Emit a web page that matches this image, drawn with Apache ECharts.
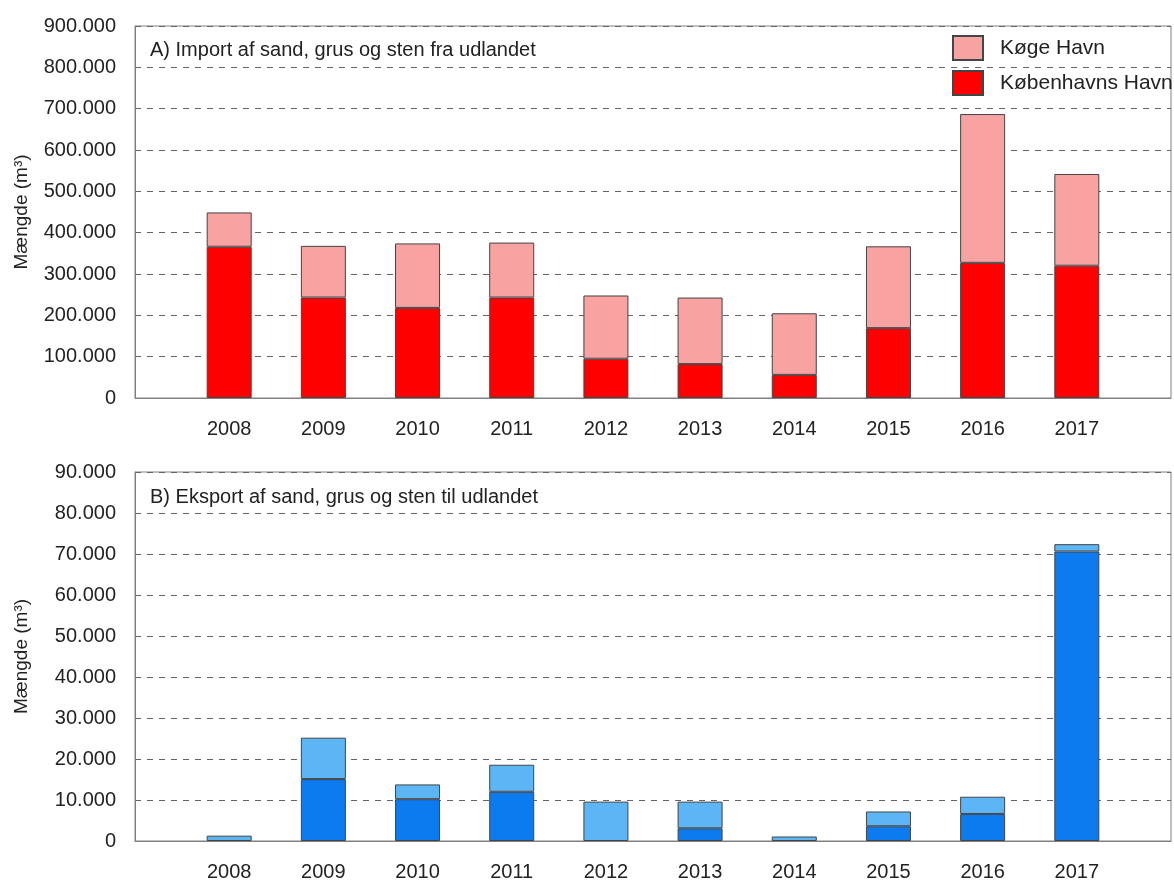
<!DOCTYPE html>
<html>
<head>
<meta charset="utf-8">
<script src="https://cdn.jsdelivr.net/npm/echarts@6/dist/echarts.min.js"></script>
<style>
  html, body { margin: 0; padding: 0; background: #fff; }
  #chart { width: 1174px; height: 882px; }
</style>
</head>
<body>
<div id="chart"></div>
<script>
// Years shown on both panels
const years = [2008, 2009, 2010, 2011, 2012, 2013, 2014, 2015, 2016, 2017];

// A) Import of sand, gravel and stone (m³)
const importKbh  = [366000, 243000, 218000, 243000, 95000, 82000, 56000, 169000, 327000, 320000];
const importKoge = [83000, 125000, 156000, 133000, 153000, 161000, 149000, 198000, 360000, 222000];

// B) Export of sand, gravel and stone (m³); null = no shipments
const exportKbh  = [null, 15100, 10200, 12000, null, 3100, null, 3600, 6600, 70600];
const exportKoge = [1300, 10100, 3600, 6600, 9600, 6500, 1100, 3600, 4200, 1800];

const panelTitles = [
  'A) Import af sand, grus og sten fra udlandet',
  'B) Eksport af sand, grus og sten til udlandet'
];
const yName = 'Mængde (m³)';

const FONT = '"Liberation Sans", Arial, sans-serif';
const TXT = '#222';
const GRID_GRAY = '#808080';

// The year axis runs one empty slot beyond each end (unlabelled padding years)
const firstYear = years[0] - 1;
const lastYear = years[years.length - 1] + 1;
const axisYears = [String(firstYear), ...years.map(String), String(lastYear)];

function fmtThousands(v) {
  return String(v).replace(/\B(?=(\d{3})+(?!\d))/g, '.');
}
function padded(vals) {
  return ['-', ...vals.map(v => v == null ? '-' : v), '-'];
}

const xAxisBase = (gridIndex) => ({
  type: 'category', gridIndex, data: axisYears, boundaryGap: false,
  axisLine: { show: true, lineStyle: { color: GRID_GRAY, width: 1 } },
  axisTick: { show: false },
  splitLine: { show: false },
  axisLabel: {
    margin: 21, fontSize: 20, color: TXT, fontFamily: FONT, interval: 0,
    formatter: v => (v === axisYears[0] || v === axisYears[axisYears.length - 1]) ? '' : v
  }
});

const yAxisBase = (gridIndex, max, interval) => ({
  type: 'value', gridIndex, min: 0, max, interval,
  name: yName, nameLocation: 'middle', nameGap: 104, nameRotate: 90,
  nameTextStyle: { fontSize: 19, color: TXT, fontFamily: FONT },
  axisLine: { show: true, lineStyle: { color: GRID_GRAY, width: 1 } },
  axisTick: { show: false },
  axisLabel: { margin: 19, fontSize: 20, color: TXT, fontFamily: FONT, formatter: fmtThousands },
  splitLine: { show: true, lineStyle: { color: '#666', width: 1, type: [6, 6] } }
});

const barStyle = (color) => ({ color, borderColor: '#444', borderWidth: 1 });
const titleStyle = { fontSize: 20, fontWeight: 'normal', color: TXT, fontFamily: FONT };

const option = {
  animation: false,
  backgroundColor: '#fff',
  textStyle: { fontFamily: FONT },
  title: [
    { text: panelTitles[0], left: 145, top: 35, textStyle: titleStyle },
    { text: panelTitles[1], left: 145, top: 482, textStyle: titleStyle }
  ],
  legend: {
    data: ['Køge Havn', 'Københavns Havn'],
    orient: 'vertical', left: 952, top: 35, padding: 0,
    itemWidth: 30, itemHeight: 24, itemGap: 9, icon: 'rect',
    textStyle: { fontSize: 21, color: TXT, fontFamily: FONT, padding: [0, 0, 0, 12] }
  },
  grid: [
    { left: 135, width: 1040, top: 26, height: 372, show: true, borderColor: GRID_GRAY, borderWidth: 1 },
    { left: 135, width: 1040, top: 472, height: 371, show: true, borderColor: GRID_GRAY, borderWidth: 1 }
  ],
  xAxis: [xAxisBase(0), xAxisBase(1)],
  yAxis: [yAxisBase(0, 900000, 100000), yAxisBase(1, 90000, 10000)],
  series: [
    { name: 'Københavns Havn', type: 'bar', xAxisIndex: 0, yAxisIndex: 0, stack: 'import', barWidth: 45,
      itemStyle: barStyle('#ff0000'), data: padded(importKbh) },
    { name: 'Køge Havn', type: 'bar', xAxisIndex: 0, yAxisIndex: 0, stack: 'import', barWidth: 45,
      itemStyle: barStyle('#f9a2a2'), data: padded(importKoge) },
    { name: 'Københavns Havn (eksport)', type: 'bar', xAxisIndex: 1, yAxisIndex: 1, stack: 'export', barWidth: 45,
      itemStyle: barStyle('#0b7bef'), data: padded(exportKbh) },
    { name: 'Køge Havn (eksport)', type: 'bar', xAxisIndex: 1, yAxisIndex: 1, stack: 'export', barWidth: 45,
      itemStyle: barStyle('#5cb6f6'), data: padded(exportKoge) }
  ]
};

const chart = echarts.init(document.getElementById('chart'), null, { renderer: 'canvas' });
chart.setOption(option);
</script>
</body>
</html>
